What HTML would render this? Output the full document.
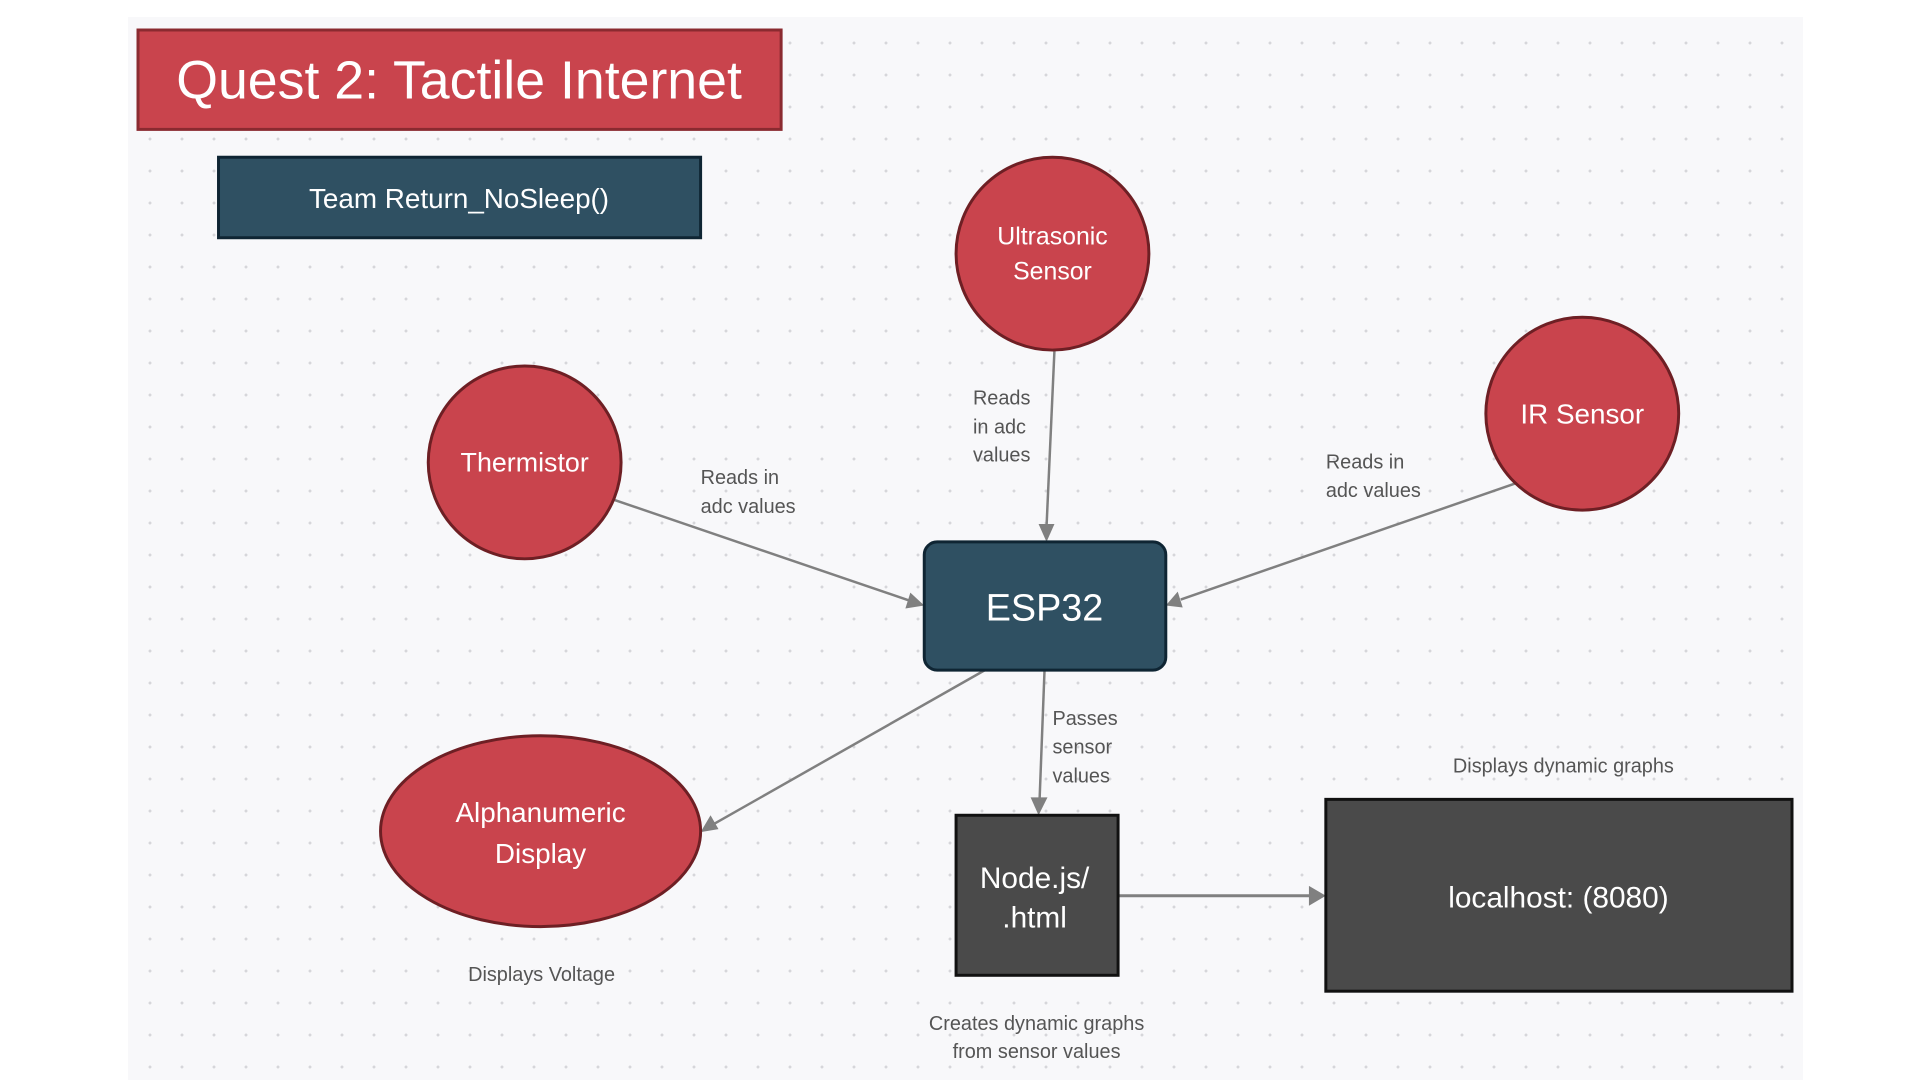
<!DOCTYPE html>
<html><head><meta charset="utf-8"><style>
html,body{margin:0;padding:0;width:1920px;height:1080px;background:#fff;overflow:hidden}
.bg{position:absolute;left:128px;top:17px;width:1675px;height:1063px;background-color:#f8f8fa;
background-image:radial-gradient(circle,#d6d6da 1.3px,transparent 1.6px);background-size:32px 32px;background-position:6px 10px}
svg{position:absolute;left:0;top:0}
text{font-family:"Liberation Sans",sans-serif}
</style></head><body>
<div class="bg"></div>
<svg width="1920" height="1080" viewBox="0 0 1920 1080">
<g transform="translate(138,30) scale(0.994) translate(-138,-30)">
<g stroke="#808080" stroke-width="2.5" fill="none">
<line x1="615" y1="502" x2="914" y2="604"/>
<line x1="1060" y1="352" x2="1052" y2="530"/>
<line x1="1524" y1="486" x2="1187" y2="603"/>
<line x1="990" y1="674" x2="717" y2="829"/>
<line x1="1050" y1="674" x2="1045" y2="805"/>
<line x1="1124" y1="901" x2="1318" y2="901" stroke-width="3"/>
</g>
<g fill="#808080">
<polygon points="929,609 910,612 915,596"/>
<polygon points="1052,545 1044,527 1060,527"/>
<polygon points="1172,609 1184,595 1189,611"/>
<polygon points="704,837 714,820 722,834"/>
<polygon points="1044,820 1036,802 1053,802"/>
<polygon points="1333,901 1316,891 1316,911"/>
</g>
<rect x="138" y="30" width="647" height="100" fill="#c9444d" stroke="#8a2a30" stroke-width="3"/>
<text x="461" y="99" font-size="54" fill="#fff" text-anchor="middle">Quest 2: Tactile Internet</text>
<rect x="219" y="158" width="485" height="81" fill="#2f5062" stroke="#0f2533" stroke-width="3"/>
<text x="461" y="209" font-size="28" fill="#fff" text-anchor="middle">Team Return_NoSleep()</text>
<g fill="#c9444d" stroke="#6e1f24" stroke-width="3">
<circle cx="1058" cy="255" r="97"/>
<circle cx="527" cy="465" r="97"/>
<circle cx="1591" cy="416" r="97"/>
<ellipse cx="543" cy="836" rx="161" ry="96"/>
</g>
<g fill="#fff" text-anchor="middle">
<text x="1058" y="246" font-size="25">Ultrasonic</text>
<text x="1058" y="281" font-size="25">Sensor</text>
<text x="527" y="474" font-size="27">Thermistor</text>
<text x="1591" y="426" font-size="28">IR Sensor</text>
<text x="543" y="827" font-size="28">Alphanumeric</text>
<text x="543" y="868" font-size="28">Display</text>
</g>
<rect x="929" y="545" width="243" height="129" rx="13" fill="#2f5062" stroke="#0f2533" stroke-width="3"/>
<text x="1050" y="624" font-size="38" fill="#fff" text-anchor="middle">ESP32</text>
<rect x="961" y="820" width="163" height="161" fill="#4a4a4a" stroke="#111" stroke-width="3"/>
<text x="1040" y="893" font-size="30" fill="#fff" text-anchor="middle">Node.js/</text>
<text x="1040" y="933" font-size="30" fill="#fff" text-anchor="middle">.html</text>
<rect x="1333" y="804" width="469" height="193" fill="#4a4a4a" stroke="#111" stroke-width="3"/>
<text x="1567" y="913" font-size="30" fill="#fff" text-anchor="middle">localhost: (8080)</text>
<g fill="#555" font-size="20">
<text x="704" y="487">Reads in</text><text x="704" y="516">adc values</text>
<text x="978" y="407">Reads</text><text x="978" y="436">in adc</text><text x="978" y="464">values</text>
<text x="1333" y="471">Reads in</text><text x="1333" y="500">adc values</text>
<text x="1058" y="729">Passes</text><text x="1058" y="758">sensor</text><text x="1058" y="787">values</text>
<text x="1572" y="777" text-anchor="middle">Displays dynamic graphs</text>
<text x="544" y="987" text-anchor="middle">Displays Voltage</text>
<text x="1042" y="1036" text-anchor="middle">Creates dynamic graphs</text>
<text x="1042" y="1064" text-anchor="middle">from sensor values</text>
</g>
</g>
</svg>
</body></html>
